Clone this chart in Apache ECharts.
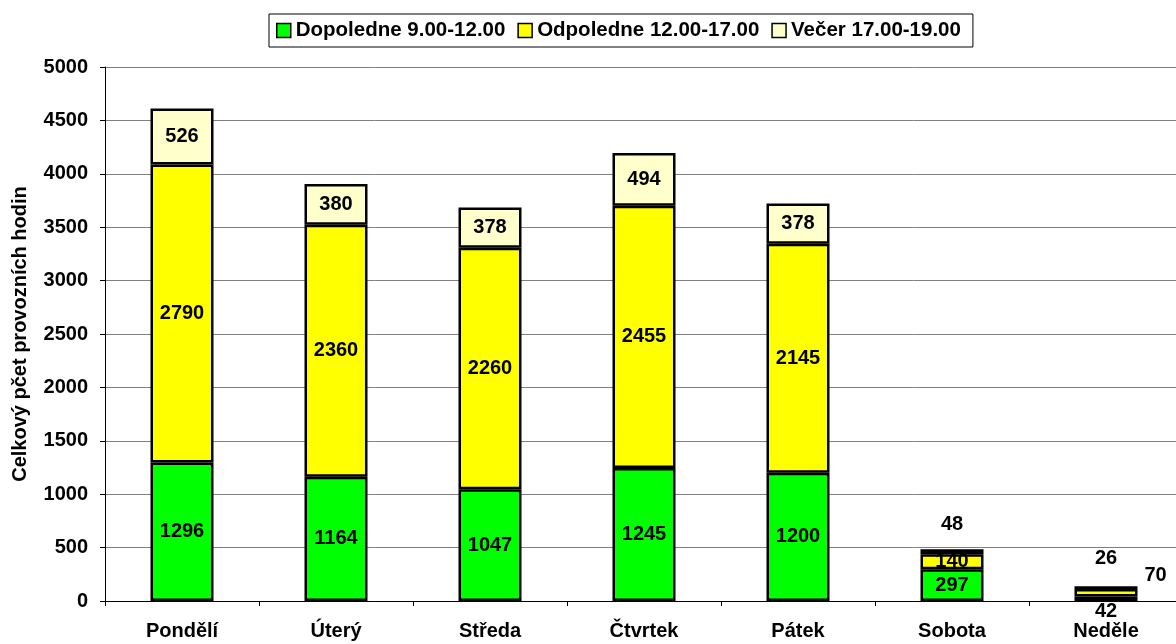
<!DOCTYPE html>
<html><head><meta charset="utf-8">
<script src="https://cdn.jsdelivr.net/npm/echarts@6/dist/echarts.min.js"></script>
<style>html,body{margin:0;padding:0;background:#fff;overflow:hidden}#c{width:1186px;height:644px}</style>
</head><body><div id="c"></div>
<script>
const categories = ['Pondělí','Úterý','Středa','Čtvrtek','Pátek','Sobota','Neděle'];
const dopoledne = [1296,1164,1047,1245,1200,297,42];
const odpoledne = [2790,2360,2260,2455,2145,140,70];
const vecer = [526,380,378,494,378,48,26];
const seriesNames = ['Dopoledne 9.00-12.00','Odpoledne 12.00-17.00','Večer 17.00-19.00'];
const colors = ['#00ff00','#ffff00','#ffffcc'];
const FONT = '"Liberation Sans", Arial, sans-serif';

const chart = echarts.init(document.getElementById('c'), null, {renderer:'canvas'});
const lbl = {show:true, position:'inside', color:'#000', fontWeight:'bold', fontSize:20, fontFamily:FONT};

function mk(vals, idx){
  return vals.map((v,i)=>{
    const d = {value:v};
    if (i===6 && idx===0) d.label = {position:'bottom', distance:0};
    if (i===6 && idx===1) d.label = {position:'right', distance:7, offset:[0,-17]};
    if (i===6 && idx===2) d.label = {position:'top', distance:18};
    if (i===5 && idx===2) d.label = {position:'top', distance:15};
    return d;
  });
}
const all = [dopoledne, odpoledne, vecer];
chart.setOption({
  animation:false,
  legend:{
    top:14, left:269, itemWidth:14, itemHeight:14, itemGap:12,
    borderColor:'#000', borderWidth:1, padding:[6,12,6,7],
    textStyle:{fontFamily:FONT, fontWeight:'bold', fontSize:20.5, color:'#000'},
    data: seriesNames.map(n=>({name:n, icon:'rect', itemStyle:{borderColor:'#000', borderWidth:1.5}}))
  },
  grid:{left:105, top:67, width:1078, height:534},
  xAxis:{
    type:'category', data:categories,
    axisLine:{lineStyle:{color:'#000', width:1}},
    axisTick:{show:true, length:5, lineStyle:{color:'#000'}},
    axisLabel:{fontFamily:FONT, fontWeight:'bold', fontSize:20, color:'#000', margin:20}
  },
  yAxis:{
    type:'value', min:0, max:5000, interval:500,
    name:'Celkový pčet provozních hodin', nameLocation:'middle', nameGap:75, nameRotate:90,
    nameTextStyle:{fontFamily:FONT, fontWeight:'bold', fontSize:20, color:'#000'},
    axisLine:{show:true, lineStyle:{color:'#000', width:1}},
    axisTick:{show:true, length:5, lineStyle:{color:'#000'}},
    axisLabel:{fontFamily:FONT, fontWeight:'bold', fontSize:20, color:'#000', margin:17, formatter:v=>String(v)},
    splitLine:{lineStyle:{color:'#808080', width:1}}
  },
  series: all.map((vals,idx)=>({
    name:seriesNames[idx], type:'bar', stack:'t', barWidth:63,
    itemStyle:{color:colors[idx], borderColor:'#000', borderWidth:2.5},
    label:lbl,
    data: mk(vals, idx)
  }))
});
</script></body></html>
